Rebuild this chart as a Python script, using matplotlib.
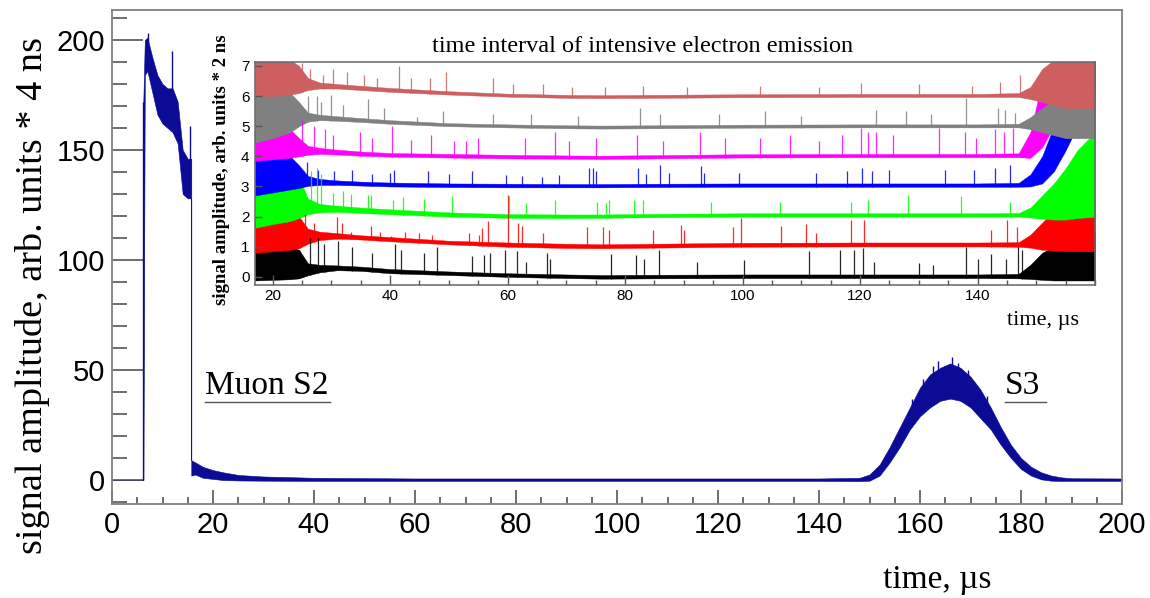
import numpy as np
import matplotlib
matplotlib.use("Agg")
import matplotlib.pyplot as plt
from matplotlib.ticker import MultipleLocator, FixedLocator

# ---------------- main waveform (envelope) ----------------
MAIN_T = [0, 6.2, 6.2, 6.5, 7, 8, 9, 10, 11, 12, 13, 14, 15, 15.7, 15.7, 16.5, 18, 20, 22, 25,
          30, 40, 60, 100, 140, 148, 150, 152, 154, 156, 158, 160, 162, 164, 166, 168, 170,
          172, 174, 176, 178, 180, 182, 184, 186, 188, 190, 200]
MAIN_LO = [0, 0, 0, 184, 186, 176, 166, 162, 160, 158, 153, 130, 128, 128, 2, 2.5, 1, 0.5, 0, -0.2,
           -0.3, -0.4, -0.4, -0.4, -0.4, -0.5, -0.3, 2, 8, 15, 23, 29, 33, 36, 37, 36, 33,
           28, 23, 16, 10, 5, 2, 0.3, -0.3, -0.4, -0.4, -0.4]
MAIN_HI = [0, 0, 172, 200, 201, 192, 184, 180, 178, 178, 172, 150, 146, 146, 9, 8, 6, 4.5, 3.5, 2.3,
           1.6, 1.0, 0.7, 0.7, 0.7, 1.0, 2.5, 7, 15, 24, 33, 42, 48, 51, 53, 51, 47,
           41, 33, 24, 16, 10, 6, 3.5, 2, 1.2, 0.8, 0.7]
MAIN_SPIKE_T = [6.2, 7.1, 11.9, 15.4, 158.5, 160.6, 162.5, 163.5, 164.9, 166.3, 167.6, 169.5,
                173.2]
MAIN_SPIKE_LO = [0, 185, 160, 130, 28, 35, 40, 42, 42, 42, 42, 40, 30]
MAIN_SPIKE_HI = [172, 203, 195, 161, 37, 46, 52, 54, 52, 56, 53, 50, 38]
MAIN_XTICKS = [0, 20, 40, 60, 80, 100, 120, 140, 160, 180, 200]
MAIN_YTICKS = [0, 50, 100, 150, 200]

# ---------------- inset: seven traces (envelopes + spikes) ----------------
INSET_T = [17, 20, 23, 24.5, 26, 28, 31, 35, 40, 50, 60, 70, 76, 85, 100, 120, 140, 147,
           149, 151, 153, 155, 157, 160]

BLACK_LO = [-0.12, -0.1, -0.08, -0.05, 0.05, 0.15, 0.22, 0.2, 0.12, 0.06, 0.0, -0.04, -0.06,
            -0.05, -0.04, -0.04, -0.04, -0.05, -0.07, -0.1, -0.12, -0.12, -0.12, -0.12]
BLACK_HI = [1.0, 1.05, 1.0, 0.9, 0.45, 0.4, 0.38, 0.34, 0.26, 0.18, 0.12, 0.08, 0.06,
            0.07, 0.08, 0.08, 0.08, 0.1, 0.4, 0.8, 1.0, 1.1, 1.3, 1.5]
RED_LO = [0.8, 0.85, 0.9, 0.95, 1.1, 1.22, 1.27, 1.24, 1.18, 1.08, 1.0, 0.96, 0.95, 0.97,
          1.0, 1.01, 1.01, 1.0, 0.97, 0.9, 0.87, 0.85, 0.85, 0.85]
RED_HI = [1.9, 2.1, 2.1, 2.0, 1.6, 1.5, 1.45, 1.38, 1.32, 1.2, 1.14, 1.1, 1.08, 1.1,
          1.13, 1.14, 1.14, 1.15, 1.4, 1.8, 2.2, 2.4, 2.5, 2.6]
GREEN_LO = [1.63, 1.75, 1.85, 1.95, 2.08, 2.14, 2.16, 2.12, 2.08, 2.0, 1.96, 1.95, 1.96,
            1.98, 2.0, 2.0, 2.0, 2.0, 1.97, 1.93, 1.9, 1.9, 1.95, 2.0]
GREEN_HI = [3.0, 3.4, 3.5, 3.3, 2.6, 2.42, 2.36, 2.3, 2.24, 2.14, 2.08, 2.07, 2.07,
            2.09, 2.11, 2.11, 2.11, 2.12, 2.3, 2.7, 3.1, 3.6, 4.2, 4.8]
BLUE_LO = [2.7, 2.8, 2.9, 2.95, 3.02, 3.05, 3.05, 3.03, 3.0, 2.98, 2.97, 2.97, 2.97,
           2.98, 2.99, 2.99, 2.99, 2.99, 3.0, 3.1, 3.5, 4.2, 5.0, 6.0]
BLUE_HI = [4.05, 4.1, 4.0, 3.7, 3.35, 3.25, 3.2, 3.16, 3.13, 3.1, 3.09, 3.08, 3.08,
           3.09, 3.1, 3.1, 3.1, 3.12, 3.4, 4.0, 5.0, 6.5, 7.2, 7.2]
MAGENTA_LO = [3.85, 3.9, 3.95, 4.0, 4.05, 4.08, 4.06, 4.02, 3.99, 3.96, 3.93, 3.92, 3.91,
              3.93, 3.96, 3.97, 3.97, 3.97, 3.95, 4.3, 5.0, 5.8, 6.5, 7.0]
MAGENTA_HI = [4.9, 5.0, 4.9, 4.6, 4.35, 4.28, 4.22, 4.16, 4.11, 4.08, 4.05, 4.03, 4.02,
              4.04, 4.07, 4.08, 4.08, 4.1, 4.8, 6.5, 7.2, 7.2, 7.2, 7.2]
GRAY_LO = [4.45, 4.6, 4.8, 5.0, 5.15, 5.2, 5.18, 5.14, 5.08, 5.0, 4.96, 4.93, 4.92,
           4.93, 4.95, 4.96, 4.96, 4.96, 4.9, 4.8, 4.7, 4.6, 4.6, 4.6]
GRAY_HI = [6.2, 6.2, 6.1, 5.8, 5.45, 5.38, 5.33, 5.27, 5.2, 5.1, 5.06, 5.03, 5.02,
           5.03, 5.05, 5.06, 5.06, 5.08, 5.3, 5.6, 5.9, 6.1, 6.2, 6.3]
ROSE_LO = [6.0, 6.0, 6.05, 6.1, 6.2, 6.25, 6.25, 6.2, 6.14, 6.05, 5.98, 5.94, 5.93,
           5.94, 5.96, 5.97, 5.97, 5.97, 5.9, 5.8, 5.7, 5.6, 5.6, 5.6]
ROSE_HI = [7.2, 7.2, 7.2, 7.0, 6.6, 6.45, 6.4, 6.34, 6.27, 6.16, 6.08, 6.04, 6.03,
           6.04, 6.06, 6.07, 6.07, 6.1, 6.3, 6.9, 7.2, 7.2, 7.2, 7.2]

BLACK_SPK_T = [26.4, 27.8, 28.8, 31.2, 33.5, 36.9, 40.9, 41.8, 45.7, 48.0, 53.9, 56.0, 57.0,
               59.5, 61.6, 63.1, 66.7, 67.3, 77.6, 81.8, 83.2, 85.8, 92.3, 100.2, 111.3, 116.6,
               118.9, 120.5, 122.4, 130.0, 132.5, 138.1, 140.0, 142.3, 144.8, 146.9, 147.5]
BLACK_SPK_TOP = [1.3, 1.3, 1.1, 1.2, 1.0, 0.8, 1.1, 0.9, 0.8, 1.0, 0.7, 0.73, 0.8,
                 0.9, 0.85, 0.5, 0.8, 0.6, 0.75, 0.73, 0.6, 0.9, 0.5, 0.55, 0.85, 0.9,
                 0.9, 0.95, 0.5, 0.45, 0.4, 1.0, 0.6, 0.75, 0.6, 1.0, 0.9]
RED_SPK_T = [25.5, 27.0, 31.0, 31.8, 33.4, 36.8, 38.2, 40.2, 42.6, 45.0, 47.2, 53.5, 55.2,
             55.6, 56.6, 60.1, 61.8, 62.5, 66.0, 73.6, 76.2, 77.3, 84.7, 89.5, 90.1, 98.3,
             99.8, 106.6, 110.8, 112.5, 118.5, 120.7, 142.3, 145.0, 146.7]
RED_SPK_TOP = [2.1, 1.8, 2.0, 1.8, 1.5, 1.7, 1.5, 1.35, 1.5, 1.45, 1.4, 1.45, 1.4,
               1.62, 1.84, 2.7, 1.8, 1.7, 1.45, 1.67, 1.67, 1.55, 1.55, 1.73, 1.55, 1.67,
               1.95, 1.7, 1.75, 1.45, 1.89, 1.9, 1.56, 1.89, 1.65]
GREEN_SPK_T = [26.5, 27.6, 28.2, 30.2, 31.9, 33.3, 36.2, 36.8, 40.5, 42.2, 45.8, 50.6, 60.2,
               63.2, 68.0, 75.3, 76.7, 77.3, 81.6, 83.0, 94.6, 106.4, 118.5, 121.3, 128.1,
               137.2, 145.5]
GREEN_SPK_TOP = [3.5, 3.6, 3.4, 2.78, 2.85, 2.75, 2.72, 2.7, 2.55, 2.65, 2.6, 2.67, 2.67,
                 2.45, 2.56, 2.5, 2.45, 2.55, 2.56, 2.55, 2.5, 2.5, 2.5, 2.56, 2.72,
                 2.67, 2.5]
BLUE_SPK_T = [25.8, 27.8, 30.4, 33.5, 37.0, 40.0, 40.6, 46.4, 50.0, 54.0, 59.8, 62.4, 65.8,
              68.8, 73.9, 74.5, 75.0, 82.2, 83.6, 86.0, 87.4, 92.9, 93.5, 99.4, 112.5, 117.8,
              120.4, 122.0, 125.0, 134.5, 139.4, 143.0, 145.5]
BLUE_SPK_TOP = [3.8, 3.55, 3.5, 3.55, 3.4, 3.45, 3.55, 3.5, 3.4, 3.5, 3.39, 3.35, 3.3,
                3.39, 3.6, 3.6, 3.5, 3.6, 3.4, 3.72, 3.45, 3.67, 3.45, 3.45, 3.45, 3.5,
                3.6, 3.52, 3.55, 3.55, 3.55, 3.6, 3.7]
MAGENTA_SPK_T = [25.0, 27.0, 29.0, 30.2, 34.8, 37.0, 40.4, 43.5, 47.0, 50.9, 53.0, 55.0, 63.0,
                 68.0, 70.5, 75.0, 82.0, 86.5, 92.7, 97.0, 103.0, 108.0, 113.0, 117.0, 120.1,
                 121.3, 122.8, 125.6, 133.5, 137.8, 139.8, 143.0, 144.5, 146.0]
MAGENTA_SPK_TOP = [5.2, 5.0, 4.9, 4.7, 4.8, 4.6, 5.0, 4.55, 4.7, 4.5, 4.5, 4.6, 4.6,
                   4.8, 4.5, 4.6, 4.7, 4.5, 4.8, 4.6, 4.6, 4.7, 4.5, 4.7, 4.95,
                   4.8, 4.8, 4.7, 4.95, 4.8, 4.6, 4.9, 4.8, 4.95]
GRAY_SPK_T = [26.0, 27.5, 28.2, 29.9, 32.0, 36.3, 39.0, 44.6, 49.0, 57.6, 64.0, 72.0, 82.5,
              86.0, 96.0, 103.9, 110.0, 122.7, 127.8, 132.0, 138.0, 143.5, 144.6, 146.3]
GRAY_SPK_TOP = [6.0, 6.0, 5.8, 6.05, 5.7, 5.9, 5.6, 5.3, 5.5, 5.4, 5.4, 5.35, 5.6,
                5.4, 5.4, 5.5, 5.35, 5.55, 5.5, 5.4, 5.94, 5.6, 5.55, 5.45]
ROSE_SPK_T = [25.0, 26.3, 28.6, 30.3, 32.6, 35.5, 37.8, 41.5, 43.5, 46.8, 49.6, 57.6, 61.0,
              66.0, 71.0, 76.5, 83.0, 90.5, 103.0, 113.0, 120.1, 130.0, 139.0, 143.8, 147.2]
ROSE_SPK_TOP = [7.1, 6.9, 6.7, 6.9, 6.8, 6.7, 6.6, 7.0, 6.6, 6.6, 6.8, 6.6, 6.4,
                6.4, 6.3, 6.3, 6.35, 6.3, 6.35, 6.3, 6.44, 6.4, 6.35, 6.45, 6.7]

INSET_XTICKS = [20, 40, 60, 80, 100, 120, 140]
INSET_YTICKS = [0, 1, 2, 3, 4, 5, 6, 7]

# drawing order: bottom trace first, top trace last
TRACES = [
    ("#000000", BLACK_LO, BLACK_HI, BLACK_SPK_T, BLACK_SPK_TOP),
    ("#ff0000", RED_LO, RED_HI, RED_SPK_T, RED_SPK_TOP),
    ("#00ff00", GREEN_LO, GREEN_HI, GREEN_SPK_T, GREEN_SPK_TOP),
    ("#0000ff", BLUE_LO, BLUE_HI, BLUE_SPK_T, BLUE_SPK_TOP),
    ("#ff00ff", MAGENTA_LO, MAGENTA_HI, MAGENTA_SPK_T, MAGENTA_SPK_TOP),
    ("#808080", GRAY_LO, GRAY_HI, GRAY_SPK_T, GRAY_SPK_TOP),
    ("#cd5f60", ROSE_LO, ROSE_HI, ROSE_SPK_T, ROSE_SPK_TOP),
]

SERIF = ["Liberation Serif", "DejaVu Serif"]
SANS = ["Liberation Sans", "DejaVu Sans"]
FRAME = "#808080"
NAVY = "#0b0b95"

W, H = 1150, 598
fig = plt.figure(figsize=(W / 100, H / 100), dpi=100)
fig.patch.set_facecolor("white")


def fx(px):
    return px / W


def fy(py):
    return 1 - py / H


# ---------------- main axes ----------------
ax = fig.add_axes([fx(112), fy(504), fx(1122) - fx(112), fy(10) - fy(504)])
ax.fill_between(MAIN_T, MAIN_LO, MAIN_HI, color=NAVY, linewidth=0.4, edgecolor=NAVY)
ax.vlines(MAIN_SPIKE_T, MAIN_SPIKE_LO, MAIN_SPIKE_HI, color=NAVY, linewidth=1.0)
ax.set_xlim(0, 200)
ax.set_ylim(-10.9, 213.6)
ax.xaxis.set_major_locator(FixedLocator(MAIN_XTICKS))
ax.xaxis.set_minor_locator(MultipleLocator(5))
ax.yaxis.set_major_locator(FixedLocator(MAIN_YTICKS))
ax.yaxis.set_minor_locator(MultipleLocator(10))
for s in ax.spines.values():
    s.set_color(FRAME)
    s.set_linewidth(1.3)
ax.tick_params(axis="both", which="both", direction="in", color="#555555", width=1.2,
               top=False, right=False, labelcolor="black")
ax.tick_params(axis="x", which="major", length=10, pad=5)
ax.tick_params(axis="x", which="minor", length=5)
ax.tick_params(axis="y", which="major", length=22, pad=5)
ax.tick_params(axis="y", which="minor", length=11)
for lab in ax.get_xticklabels() + ax.get_yticklabels():
    lab.set_fontfamily(SANS)
    lab.set_fontsize(21)

# annotations with underline
ax.text(18.4, 39, "Muon S2", fontsize=24, family=SERIF, ha="left", va="baseline")
ax.plot([18.4, 43.2], [35.3, 35.3], color="#555555", linewidth=1.0)
ax.text(176.8, 39, "S3", fontsize=24, family=SERIF, ha="left", va="baseline")
ax.plot([176.8, 184.9], [35.3, 35.3], color="#555555", linewidth=1.0)

fig.text(fx(33), fy(296), "signal amplitude, arb. units * 4 ns", rotation=90,
         fontsize=27.5, family=SERIF, ha="center", va="center")
fig.text(fx(937), fy(580), "time, \u00b5s", fontsize=24, family=SERIF,
         ha="center", va="center")

# ---------------- inset axes ----------------
axi = fig.add_axes([fx(255), fy(285), fx(1095) - fx(255), fy(61.7) - fy(285)])
axi.set_facecolor("white")
for color, lo, hi, spt, sptop in TRACES:
    axi.fill_between(INSET_T, lo, hi, color=color, linewidth=0.3, edgecolor=color)
    base = np.interp(spt, INSET_T, lo)
    axi.vlines(spt, base, sptop, color=color, linewidth=0.9, alpha=0.85)
axi.set_xlim(17, 160)
axi.set_ylim(-0.27, 7.14)
axi.xaxis.set_major_locator(FixedLocator(INSET_XTICKS))
axi.xaxis.set_minor_locator(MultipleLocator(5))
axi.yaxis.set_major_locator(FixedLocator(INSET_YTICKS))
for s in axi.spines.values():
    s.set_color("#666666")
    s.set_linewidth(1.1)
axi.tick_params(axis="both", which="both", direction="in", color="#555555", width=1.0,
                top=False, right=False, labelcolor="black")
axi.tick_params(axis="x", which="major", length=7, pad=3)
axi.tick_params(axis="x", which="minor", length=3.5)
axi.tick_params(axis="y", which="major", length=5, pad=4)
for lab in axi.get_xticklabels() + axi.get_yticklabels():
    lab.set_fontfamily(SANS)
    lab.set_fontsize(11)

fig.text(fx(643), fy(47), "time interval of intensive electron emission", fontsize=17.5,
         family=SERIF, ha="center", va="center")
fig.text(fx(222), fy(170), "signal amplitude, arb. units * 2 ns", rotation=90,
         fontsize=13.5, family=SERIF, fontweight="bold", ha="center", va="center")
fig.text(fx(1043), fy(320), "time, \u00b5s", fontsize=16, family=SERIF,
         ha="center", va="center")

fig.savefig("out.png", dpi=100, facecolor="white")
